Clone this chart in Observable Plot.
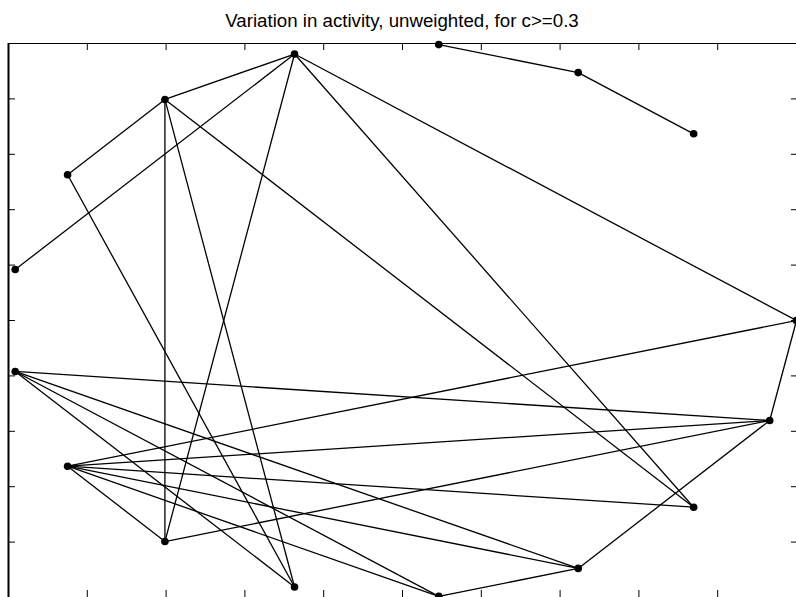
<!DOCTYPE html>
<html>
<head>
<meta charset="utf-8">
<script src="https://cdn.jsdelivr.net/npm/d3@7"></script>
<script src="https://cdn.jsdelivr.net/npm/@observablehq/plot@0.6"></script>
<style>
  html, body { margin: 0; padding: 0; background: #fff; }
  #wrap { position: relative; width: 796px; height: 597px; overflow: hidden; }
  #title { position: absolute; left: 8px; width: 788px; top: 12px; text-align: center;
           font-family: "Liberation Sans", Arial, sans-serif; font-size: 18.7px; line-height: 1; color: #000; }
</style>
</head>
<body>
<div id="wrap">
  <div id="chart"></div>
  <div id="title">Variation in activity, unweighted, for c&gt;=0.3</div>
</div>
<script>
// Node positions (17 nodes around the unit circle)
const nodeX = [1.000, 0.932, 0.739, 0.446, 0.092, -0.274, -0.603, -0.850, -0.983,
               -0.983, -0.850, -0.603, -0.274, 0.092, 0.446, 0.739, 0.932];
const nodeY = [0.000, 0.361, 0.674, 0.895, 0.996, 0.962, 0.798, 0.526, 0.184,
               -0.184, -0.526, -0.798, -0.962, -0.996, -0.895, -0.674, -0.361];
// Edges (connections with c >= 0.3)
const edgeSource = [4, 3, 5, 6, 5, 5, 5, 5, 6, 6, 6, 7, 9, 9, 9, 9, 10, 10, 10, 10, 10, 10, 11, 13, 14, 16];
const edgeTarget = [3, 2, 6, 7, 8, 11, 15, 0, 11, 12, 15, 12, 16, 14, 13, 12, 0, 16, 15, 14, 13, 11, 16, 14, 16, 0];
// Axis ticks
const xTicks = [-1, -0.8, -0.6, -0.4, -0.2, 0, 0.2, 0.4, 0.6, 0.8, 1];
const yTicks = [-1, -0.8, -0.6, -0.4, -0.2, 0, 0.2, 0.4, 0.6, 0.8, 1];

const edges = edgeSource.map((s, i) => ({
  x1: nodeX[s], y1: nodeY[s], x2: nodeX[edgeTarget[i]], y2: nodeY[edgeTarget[i]]
}));
const used = new Set([...edgeSource, ...edgeTarget]);
const nodes = nodeX.map((x, i) => ({x, y: nodeY[i], i})).filter(d => used.has(d.i));

const noText = () => "";
const chart = Plot.plot({
  width: 796,
  height: 597,
  marginTop: 43,
  marginBottom: 0,
  marginLeft: 8,
  marginRight: 0,
  style: {background: "#fff", color: "#000", overflow: "visible"},
  x: {domain: [-1, 1]},
  y: {domain: [-1, 1]},
  marks: [
    Plot.link(edges, {x1: "x1", y1: "y1", x2: "x2", y2: "y2", stroke: "#000", strokeWidth: 1.3}),
    Plot.dot(nodes, {x: "x", y: "y", r: 3.8, fill: "#000", stroke: "none"}),
    Plot.axisX(xTicks, {anchor: "top", tickSize: -6, tickFormat: noText, label: null}),
    Plot.axisX(xTicks, {anchor: "bottom", tickSize: -7, tickFormat: noText, label: null}),
    Plot.axisY(yTicks, {anchor: "left", tickSize: -7, tickFormat: noText, label: null}),
    Plot.axisY(yTicks, {anchor: "right", tickSize: -6, tickFormat: noText, label: null}),
    Plot.frame({stroke: "#000", strokeWidth: 1}),
    Plot.ruleX([-1], {stroke: "#000", strokeWidth: 2})
  ]
});
document.getElementById("chart").appendChild(chart);
</script>
</body>
</html>
